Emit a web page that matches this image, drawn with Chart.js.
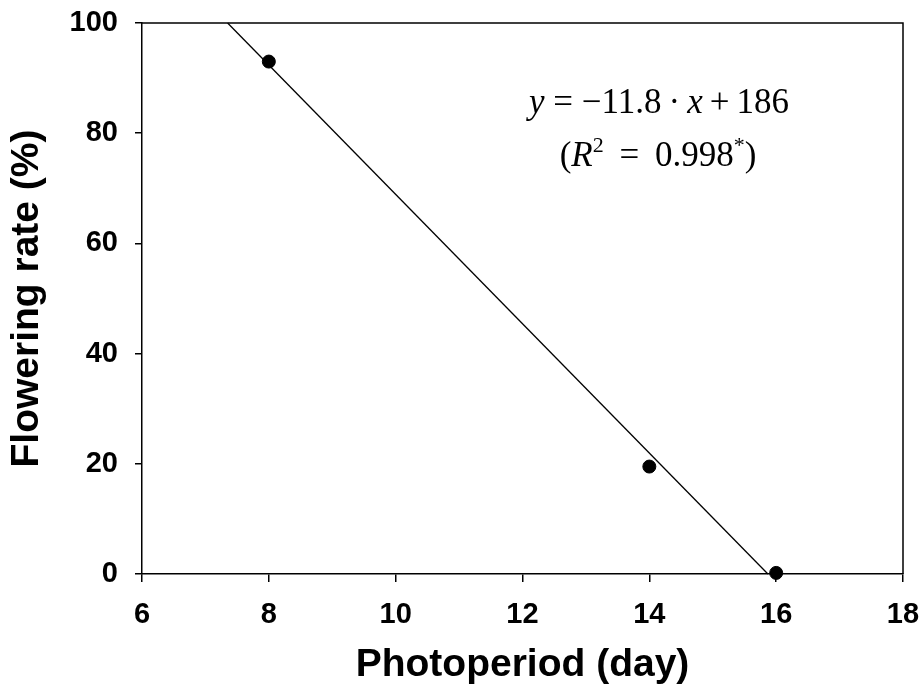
<!DOCTYPE html>
<html>
<head>
<meta charset="utf-8">
<script src="https://cdn.jsdelivr.net/npm/chart.js@4/dist/chart.umd.min.js"></script>
<style>
  html, body { margin: 0; padding: 0; background: #fff; }
  #wrap { width: 922px; height: 692px; }
</style>
</head>
<body>
<div id="wrap"><canvas id="c" width="922" height="692"></canvas></div>
<script>
// ---- data ----
const photoperiod = [8, 14, 16];          // x values (day)
const floweringRate = [93, 19.5, 0.2];    // y values (%)
const fitX = [7.35, 15.87];               // regression line end points (x)
const fitY = [100, 0];                    // regression line end points (y)
const xTicks = [6, 8, 10, 12, 14, 16, 18];
const yTicks = [0, 20, 40, 60, 80, 100];
const xTitle = 'Photoperiod (day)';
const yTitle = 'Flowering rate (%)';
const eqLine1 = [
  { t: 'y', it: true }, { t: ' = −11.8\u2009·\u2009' }, { t: 'x', it: true }, { t: '\u2009+\u2009186' }
];
const eqLine2 = [
  { t: '(' }, { t: 'R', it: true }, { t: '2', sup: true }, { t: ' \u2009=\u2009 0.998' }, { t: '*', sup: true }, { t: ')' }
];

const SANS = '"Liberation Sans", Arial, Helvetica, sans-serif';
const SERIF = '"Liberation Serif", "Times New Roman", serif';

const framePlugin = {
  id: 'frame',
  afterDatasetsDraw(chart) {
    const { ctx, chartArea: a } = chart;
    ctx.save();
    ctx.strokeStyle = '#000';
    ctx.lineWidth = 1.5;
    ctx.beginPath();
    ctx.moveTo(a.left, a.top);
    ctx.lineTo(a.right, a.top);
    ctx.lineTo(a.right, a.bottom);
    ctx.stroke();
    ctx.restore();
  }
};

function drawRuns(ctx, runs, cx, baseline, size) {
  const fontOf = r => (r.it ? 'italic ' : '') + (r.sup ? Math.round(size * 0.62) : size) + 'px ' + SERIF;
  let total = 0;
  runs.forEach(r => { ctx.font = fontOf(r); total += ctx.measureText(r.t).width; });
  let x = cx - total / 2;
  runs.forEach(r => {
    ctx.font = fontOf(r);
    ctx.fillText(r.t, x, r.sup ? baseline - size * 0.4 : baseline);
    x += ctx.measureText(r.t).width;
  });
}

const equationPlugin = {
  id: 'equation',
  afterDraw(chart) {
    const { ctx } = chart;
    ctx.save();
    ctx.fillStyle = '#000';
    ctx.textBaseline = 'alphabetic';
    ctx.textAlign = 'left';
    drawRuns(ctx, eqLine1, 659, 113, 35);
    drawRuns(ctx, eqLine2, 658, 166, 35);
    ctx.restore();
  }
};

new Chart(document.getElementById('c'), {
  type: 'scatter',
  data: {
    datasets: [
      {
        label: 'fit',
        type: 'line',
        data: fitX.map((x, i) => ({ x, y: fitY[i] })),
        borderColor: '#000',
        borderWidth: 1.3,
        pointRadius: 0,
        fill: false,
        clip: false
      },
      {
        label: 'Flowering rate',
        data: photoperiod.map((x, i) => ({ x, y: floweringRate[i] })),
        backgroundColor: '#000',
        borderColor: '#000',
        pointRadius: 6.5,
        pointHoverRadius: 6.5,
        clip: false
      }
    ]
  },
  options: {
    responsive: false,
    animation: false,
    events: [],
    layout: { padding: { top: 23, right: 19, left: 0, bottom: 0 } },
    plugins: { legend: { display: false }, tooltip: { enabled: false } },
    scales: {
      x: {
        type: 'linear',
        min: 6, max: 18,
        afterBuildTicks: s => { s.ticks = xTicks.map(v => ({ value: v })); },
        afterFit: s => { s.height = 118; s.paddingLeft = 0; s.paddingRight = 0; },
        border: { display: true, color: '#000', width: 1.5 },
        grid: { drawOnChartArea: false, drawTicks: true, tickLength: 8, color: '#000', lineWidth: 1.5 },
        ticks: { color: '#000', padding: 16, font: { family: SANS, size: 29, weight: 'bold' }, maxRotation: 0 },
        title: { display: true, text: xTitle, color: '#000', padding: { top: 0, bottom: 3 }, font: { family: SANS, size: 39, weight: 'bold' } }
      },
      y: {
        type: 'linear',
        min: 0, max: 100,
        afterBuildTicks: s => { s.ticks = yTicks.map(v => ({ value: v })); },
        afterFit: s => { s.width = 142; s.paddingTop = 0; s.paddingBottom = 0; },
        border: { display: true, color: '#000', width: 1.5 },
        grid: { drawOnChartArea: false, drawTicks: true, tickLength: 7, color: '#000', lineWidth: 1.5 },
        ticks: { color: '#000', padding: 17, font: { family: SANS, size: 29, weight: 'bold' } },
        title: { display: true, text: yTitle, color: '#000', padding: { top: 4, bottom: 0 }, font: { family: SANS, size: 39, weight: 'bold' } }
      }
    }
  },
  plugins: [framePlugin, equationPlugin]
});
</script>
</body>
</html>
